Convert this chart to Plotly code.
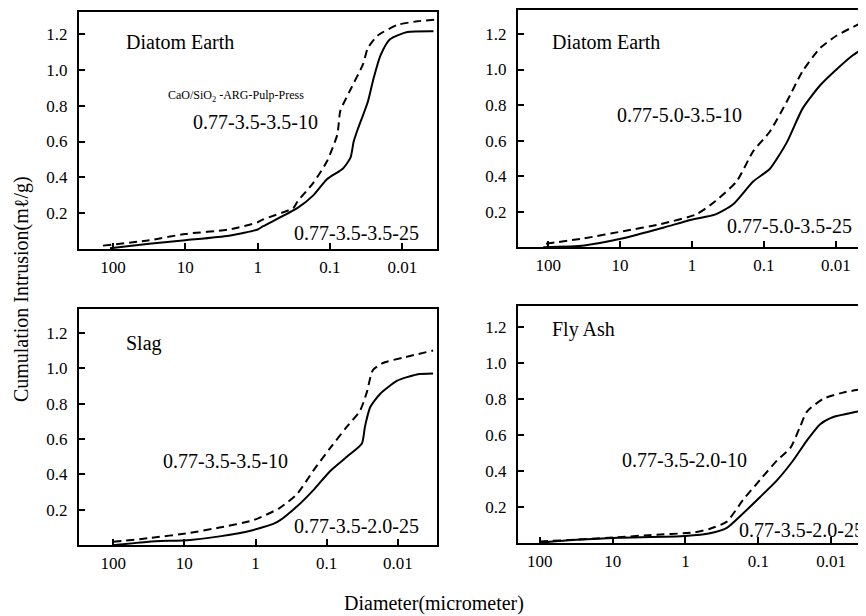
import plotly.graph_objects as go

# page body has an 8px margin, so the figure is drawn 8px in from the window corner
OFF = 8
W, H = 866 - OFF, 616 - OFF

# ---------------- data (diameter in micrometer, cumulative intrusion in ml/g) ----------------
tl_dash_d = [138, 31.6, 10, 2.5, 1.0, 0.84, 0.32, 0.28, 0.17, 0.11, 0.079, 0.072, 0.052, 0.035, 0.030, 0.022, 0.0117, 0.0062, 0.0035]
tl_dash_v = [0.02, 0.05, 0.085, 0.11, 0.15, 0.166, 0.23, 0.267, 0.37, 0.49, 0.64, 0.77, 0.89, 1.03, 1.12, 1.19, 1.25, 1.27, 1.28]
tl_solid_d = [110, 31.6, 10, 2.5, 1.0, 0.84, 0.28, 0.17, 0.11, 0.066, 0.052, 0.047, 0.042, 0.030, 0.025, 0.020, 0.0148, 0.0085, 0.0037]
tl_solid_v = [0.005, 0.03, 0.05, 0.075, 0.11, 0.128, 0.23, 0.30, 0.39, 0.45, 0.51, 0.60, 0.66, 0.82, 0.95, 1.08, 1.17, 1.21, 1.215]

tr_dash_d = [107, 31.6, 9.1, 2.75, 0.87, 0.47, 0.24, 0.141, 0.083, 0.048, 0.029, 0.0166, 0.0098, 0.0051, 0.0038]
tr_dash_v = [0.02, 0.05, 0.09, 0.13, 0.185, 0.26, 0.37, 0.54, 0.65, 0.82, 0.99, 1.12, 1.19, 1.25, 1.27]
tr_solid_d = [117, 31.6, 9.1, 2.5, 1.02, 0.47, 0.27, 0.141, 0.083, 0.048, 0.029, 0.0166, 0.0098, 0.0058, 0.0038]
tr_solid_v = [0.0, 0.01, 0.05, 0.11, 0.155, 0.185, 0.24, 0.37, 0.44, 0.59, 0.78, 0.91, 1.0, 1.08, 1.13]

bl_dash_d = [100, 31.6, 8.3, 3.2, 1.1, 0.46, 0.26, 0.155, 0.089, 0.052, 0.034, 0.0275, 0.0224, 0.0162, 0.0085, 0.0032]
bl_dash_v = [0.02, 0.04, 0.07, 0.10, 0.14, 0.21, 0.29, 0.42, 0.55, 0.67, 0.76, 0.86, 0.99, 1.03, 1.06, 1.10]
bl_solid_d = [100, 31.6, 8.3, 3.2, 1.1, 0.5, 0.26, 0.155, 0.089, 0.052, 0.032, 0.029, 0.0245, 0.0178, 0.0102, 0.0054, 0.0032]
bl_solid_v = [0.0, 0.02, 0.03, 0.05, 0.085, 0.13, 0.22, 0.31, 0.42, 0.50, 0.575, 0.67, 0.78, 0.855, 0.93, 0.965, 0.97]

br_dash_d = [100, 31.6, 8.5, 3.2, 0.76, 0.46, 0.27, 0.162, 0.095, 0.055, 0.036, 0.027, 0.0214, 0.0129, 0.0069, 0.0037]
br_dash_v = [0.01, 0.02, 0.033, 0.045, 0.06, 0.08, 0.12, 0.24, 0.35, 0.46, 0.53, 0.64, 0.73, 0.80, 0.835, 0.855]
br_solid_d = [100, 31.6, 8.5, 1.0, 0.46, 0.27, 0.162, 0.095, 0.055, 0.033, 0.0214, 0.0141, 0.0093, 0.005, 0.0036]
br_solid_v = [0.005, 0.02, 0.03, 0.04, 0.055, 0.085, 0.165, 0.255, 0.35, 0.46, 0.57, 0.66, 0.70, 0.725, 0.735]

x_tick_vals = [100, 10, 1, 0.1, 0.01]
x_tick_text = ["100", "10", "1", "0.1", "0.01"]
y_tick_vals = [0.2, 0.4, 0.6, 0.8, 1.0, 1.2]
y_tick_text = ["0.2", "0.4", "0.6", "0.8", "1.0", "1.2"]

panel_titles = ["Diatom Earth", "Diatom Earth", "Slag", "Fly Ash"]
dash_labels = ["0.77-3.5-3.5-10", "0.77-5.0-3.5-10", "0.77-3.5-3.5-10", "0.77-3.5-2.0-10"]
solid_labels = ["0.77-3.5-3.5-25", "0.77-5.0-3.5-25", "0.77-3.5-2.0-25", "0.77-3.5-2.0-25"]
caption = "CaO/SiO<sub>2</sub> -ARG-Pulp-Press"
x_title = "Diameter(micrometer)"
y_title = "Cumulation Intrusion(mℓ/g)"

# ---------------- layout helpers ----------------
FONT = "Liberation Serif, Times New Roman, serif"

def px_x(px):
    return min(max((px - OFF) / W, 0.0), 1.0)

def px_y(py):
    return min(max(1 - (py - OFF) / H, 0.0), 1.0)

# panel boxes in window pixels: (left, right, top, bottom), x log range, y range
panels = [
    ((79, 437, 10, 248), [2.47, -2.48], [0, 1.322]),
    ((518, 866, 8, 246), [2.42, -2.42], [0, 1.335]),
    ((79, 437, 308, 545), [2.48, -2.55], [0, 1.335]),
    ((518, 866, 305, 543), [2.30, -2.48], [0, 1.315]),
]
right_edge_open = [False, True, False, True]

series = [
    (tl_dash_d, tl_dash_v, tl_solid_d, tl_solid_v),
    (tr_dash_d, tr_dash_v, tr_solid_d, tr_solid_v),
    (bl_dash_d, bl_dash_v, bl_solid_d, bl_solid_v),
    (br_dash_d, br_dash_v, br_solid_d, br_solid_v),
]

fig = go.Figure()
layout = dict(
    width=W, height=H,
    margin=dict(l=0, r=0, t=0, b=0),
    paper_bgcolor="white", plot_bgcolor="white",
    showlegend=False,
    font=dict(family=FONT, color="black", size=17),
)

for i, ((l, r, t, b), xr, yr) in enumerate(panels):
    n = "" if i == 0 else str(i + 1)
    xa, ya = "x" + n, "y" + n
    dd, dv, sd, sv = series[i]
    fig.add_trace(go.Scatter(x=dd, y=dv, mode="lines", xaxis=xa, yaxis=ya, cliponaxis=True,
                             line=dict(color="black", width=2, dash="8px,5px", shape="spline", smoothing=0.6)))
    fig.add_trace(go.Scatter(x=sd, y=sv, mode="lines", xaxis=xa, yaxis=ya, cliponaxis=True,
                             line=dict(color="black", width=2, shape="spline", smoothing=0.6)))
    layout["xaxis" + n] = dict(
        type="log", range=xr, domain=[px_x(l), px_x(r)], anchor=ya,
        showgrid=False, zeroline=False, showline=True, linecolor="black", linewidth=2, mirror=True,
        ticks="inside", ticklen=6, tickwidth=1.5, tickcolor="black",
        tickvals=x_tick_vals, ticktext=x_tick_text, tickfont=dict(size=17, family=FONT),
        ticklabelstandoff=1,
    )
    layout["yaxis" + n] = dict(
        range=yr, domain=[px_y(b), px_y(t)], anchor=xa,
        showgrid=False, zeroline=False, showline=True, linecolor="black", linewidth=2,
        mirror=not right_edge_open[i],
        ticks="inside", ticklen=6, tickwidth=1.5, tickcolor="black",
        tickvals=y_tick_vals, ticktext=y_tick_text, tickfont=dict(size=17, family=FONT),
        ticklabelstandoff=6,
    )

annotations = []

def add_text(text, px, py, size, xanchor="left", yanchor="middle", angle=0):
    annotations.append(dict(text=text, x=(px - OFF) / W, y=1 - (py - OFF) / H, xref="paper", yref="paper",
                            xanchor=xanchor, yanchor=yanchor, showarrow=False, textangle=angle,
                            font=dict(family=FONT, size=size, color="black")))

# panel titles
add_text(panel_titles[0], 124, 40, 20)
add_text(panel_titles[1], 550, 40, 20)
add_text(panel_titles[2], 124, 343, 20)
add_text(panel_titles[3], 550, 329, 20)
# caption
add_text(caption, 166, 94, 12)
# series labels
add_text(dash_labels[0], 191, 120, 20)
add_text(solid_labels[0], 292, 232, 20)
add_text(dash_labels[1], 615, 113, 20)
add_text(solid_labels[1], 725, 225, 20)
add_text(dash_labels[2], 161, 460, 20)
add_text(solid_labels[2], 292, 526, 20)
add_text(dash_labels[3], 620, 459, 20)
add_text(solid_labels[3], 737, 530, 20)
# axis titles
add_text(x_title, 434, 603, 20, xanchor="center")
add_text(y_title, 21, 288, 20, xanchor="center", angle=-90)

layout["annotations"] = annotations
fig.update_layout(**layout)
fig.write_html("out.html")
